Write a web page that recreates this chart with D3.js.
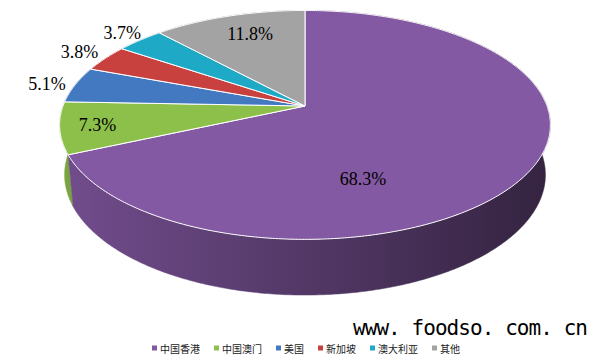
<!DOCTYPE html>
<html>
<head>
<meta charset="utf-8">
<script src="https://cdn.jsdelivr.net/npm/d3@7"></script>
<style>
  body { margin: 0; background: #fff; }
  svg { display: block; }
</style>
</head>
<body>
<div id="chart-area"></div>
<script>

// chart data
let categories = ["中国香港", "中国澳门", "美国", "新加坡", "澳大利亚", "其他"];
let shares = [68.3, 7.3, 5.1, 3.8, 3.7, 11.8];
let labels = ["68.3%", "7.3%", "5.1%", "3.8%", "3.7%", "11.8%"];
let colors = ["#8459a3", "#8dbf4b", "#4379c0", "#c8413f", "#1eaac7", "#a3a3a3"];

// where each label sits: radius (1 = rim) and a small angle shift in degrees
let labelR = [0.63, 0.85, 1.12, 1.14, 1.12, 0.77];
let labelShift = [37, 0, -1, 0, 0, 2];

let width = 599, height = 363;

let svg = d3.select("#chart-area").append("svg")
	.attr("width", width)
	.attr("height", height);

// simple perspective camera for the tilted disc
let cx = 305, cy = 106;      // screen position of the pie centre
let f = 1300, D = 5.372;     // focal length & camera distance
let sinT = 0.46, cosT = Math.sqrt(1 - sinT * sinT);
let depth = 0.234;           // thickness of the disc

function proj(a, r, yw) {
	let x = r * Math.sin(a), z = -r * Math.cos(a);
	let v = z * sinT - yw * cosT;
	let dist = D - yw * sinT - z * cosT;
	return [cx + f * x / dist, cy + f * v / dist];
}

let pie = d3.pie().sort(null).value(d => d)
	.startAngle(0).endAngle(2 * Math.PI);
let arcs = pie(shares);

// side gradients: lighter on the left, darker on the right
let defs = svg.append("defs");
colors.forEach((c, i) => {
	let g = defs.append("linearGradient")
		.attr("id", "side" + i)
		.attr("gradientUnits", "userSpaceOnUse")
		.attr("x1", 60).attr("x2", 550).attr("y1", 0).attr("y2", 0);
	g.append("stop").attr("offset", 0).attr("stop-color", d3.color(c).darker(0.4));
	g.append("stop").attr("offset", 1).attr("stop-color", d3.color(c).darker(2.6));
});

function arcPoints(a0, a1, yw) {
	let n = Math.max(2, Math.ceil((a1 - a0) / 0.01));
	return d3.range(n + 1).map(k => proj(a0 + (a1 - a0) * k / n, 1, yw));
}

let line = d3.line();

// sides, back first
let midZ = i => -Math.cos((arcs[i].startAngle + arcs[i].endAngle) / 2);
let sideOrder = arcs.map((d, i) => i).sort((p, q) => midZ(p) - midZ(q));

svg.append("g").selectAll("path")
	.data(sideOrder)
	.join("path")
	.attr("d", i => {
		let top = arcPoints(arcs[i].startAngle, arcs[i].endAngle, 0);
		let bot = arcPoints(arcs[i].startAngle, arcs[i].endAngle, -depth).reverse();
		return line(top.concat(bot)) + "Z";
	})
	.attr("fill", i => "url(#side" + i + ")")
	.attr("stroke", i => "url(#side" + i + ")")
	.attr("stroke-width", 0.5);

// top faces
svg.append("g").selectAll("path")
	.data(arcs)
	.join("path")
	.attr("d", d => line([[cx, cy]].concat(arcPoints(d.startAngle, d.endAngle, 0))) + "Z")
	.attr("fill", (d, i) => colors[i])
	.attr("stroke", "#fff")
	.attr("stroke-width", 1)
	.attr("stroke-linejoin", "round");

// data labels
svg.append("g").selectAll("text")
	.data(arcs)
	.join("text")
	.attr("transform", (d, i) => {
		let a = (d.startAngle + d.endAngle) / 2 + labelShift[i] * Math.PI / 180;
		let p = proj(a, labelR[i], 0);
		return "translate(" + p[0] + "," + p[1] + ")";
	})
	.attr("text-anchor", "middle")
	.attr("dominant-baseline", "central")
	.attr("font-family", "'Liberation Serif', 'Times New Roman', 'DejaVu Serif', serif")
	.attr("font-size", 18)
	.attr("fill", "#000")
	.text((d, i) => labels[i]);

// watermark
svg.append("text")
	.attr("x", 353)
	.attr("y", 335)
	.attr("font-family", "'DejaVu Sans Mono', monospace")
	.attr("font-size", 21)
	.attr("textLength", 235)
	.attr("lengthAdjust", "spacing")
	.attr("fill", "#000")
	.attr("xml:space", "preserve")
	.text("www. foodso. com. cn");

// legend
let legend = svg.append("g");
let items = legend.selectAll("g")
	.data(categories)
	.join("g");

items.append("rect")
	.attr("width", 5).attr("height", 5)
	.attr("y", -2.5)
	.attr("fill", (d, i) => colors[i]);

items.append("text")
	.attr("x", 8)
	.attr("dominant-baseline", "central")
	.attr("font-family", "'Noto Sans CJK SC', sans-serif")
	.attr("font-size", 10)
	.attr("fill", "#222")
	.text(d => d);

let xPos = 0;
items.each(function() {
	let w = d3.select(this).select("text").node().getComputedTextLength();
	d3.select(this).attr("transform", "translate(" + xPos + ",0)");
	xPos += 8 + w + 14;
});
let total = xPos - 14;
legend.attr("transform", "translate(" + (306 - total / 2) + ",348)");

</script>
</body>
</html>
